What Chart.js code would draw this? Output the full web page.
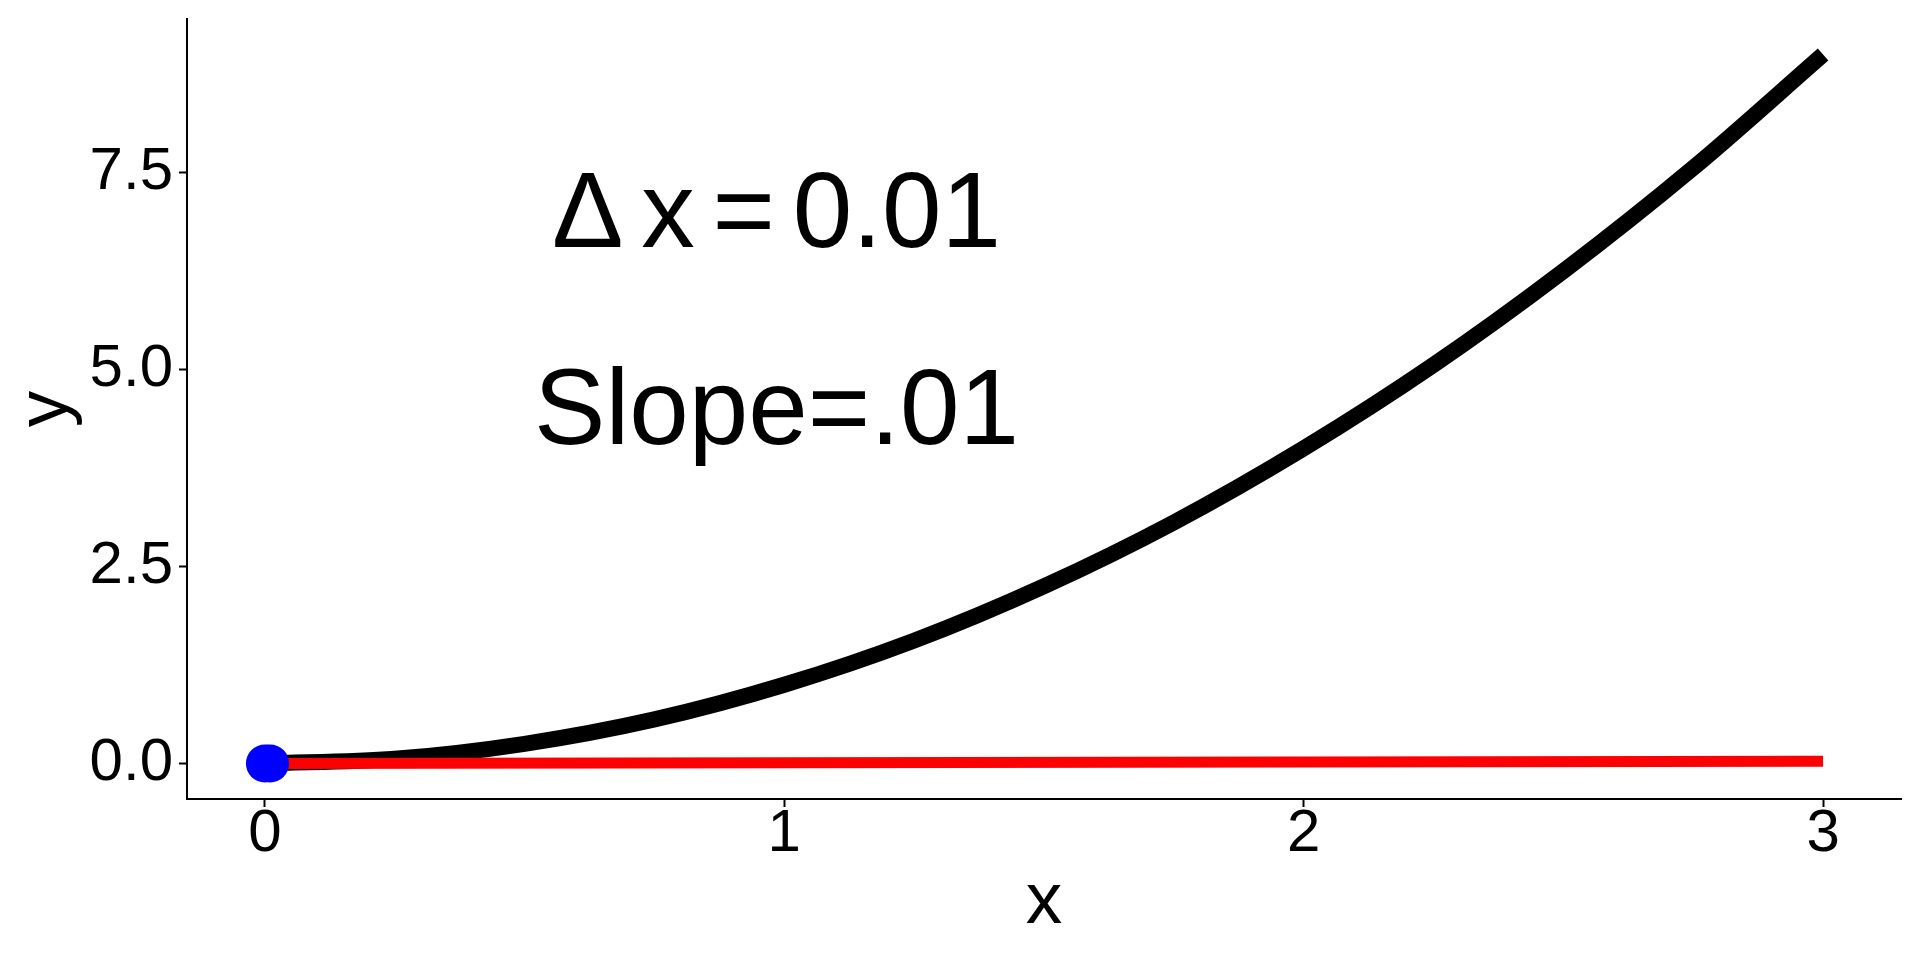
<!DOCTYPE html>
<html>
<head>
<meta charset="utf-8">
<script src="https://cdn.jsdelivr.net/npm/chart.js@4"></script>
<style>
  html, body { margin: 0; padding: 0; background: #fff; }
  #wrap { width: 1920px; height: 960px; }
</style>
</head>
<body>
<div id="wrap"><canvas id="slopeChart" width="1920" height="960"></canvas></div>
<script>
// Curve y = x^2
const curveX = [0, 0.25, 0.5, 0.75, 1, 1.25, 1.5, 1.75, 2, 2.25, 2.5, 2.75, 3];
const curveY = [0, 0.06, 0.25, 0.56, 1, 1.56, 2.25, 3.06, 4, 5.06, 6.25, 7.56, 9];

// Secant line through the two points
const secantX = [0, 3];
const secantY = [0, 0.03];

// The two points, delta x apart
const pointX = [0, 0.01];
const pointY = [0, 0.0001];

// Axis ticks
const xTicks = [0, 1, 2, 3];
const yTicks = [0, 2.5, 5, 7.5];

// Text notes (data coordinates); narrow spaces in the first one
const noteLabels = ['Δ\u2006x\u2006=\u20060.01', 'Slope=.01'];
const noteX = [0.985, 0.985];
const noteY = [6.93, 4.43];

const FONT = '"Liberation Sans", Arial, sans-serif';

function toXY(xs, ys) {
    return xs.map((x, i) => ({ x: x, y: ys[i] }));
}

// draws the text notes at their data positions
const notePlugin = {
    id: 'notes',
    afterDatasetsDraw(chart) {
        const { ctx, scales } = chart;
        ctx.save();
        ctx.fillStyle = '#000';
        ctx.font = '107px ' + FONT;
        ctx.textAlign = 'center';
        ctx.textBaseline = 'middle';
        noteLabels.forEach((t, i) => {
            ctx.fillText(t, scales.x.getPixelForValue(noteX[i]), scales.y.getPixelForValue(noteY[i]));
        });
        ctx.restore();
    }
};

const axisGrid = {
    drawOnChartArea: false,
    drawTicks: true,
    tickLength: 8,
    tickWidth: 2,
    tickColor: '#000',
    color: '#000'
};

const ctx = document.getElementById('slopeChart').getContext('2d');
new Chart(ctx, {
    type: 'line',
    data: {
        datasets: [
            {
                data: toXY(pointX, pointY),
                showLine: false,
                pointRadius: 19,
                pointHoverRadius: 19,
                pointBackgroundColor: '#0000ff',
                pointBorderWidth: 0,
                borderWidth: 0
            },
            {
                data: toXY(secantX, secantY),
                borderColor: '#ff0000',
                borderWidth: 11,
                pointRadius: 0,
                borderCapStyle: 'butt'
            },
            {
                data: toXY(curveX, curveY),
                borderColor: '#000000',
                borderWidth: 16,
                pointRadius: 0,
                cubicInterpolationMode: 'monotone',
                borderCapStyle: 'butt'
            }
        ]
    },
    options: {
        responsive: false,
        animation: false,
        layout: { padding: { top: 14, right: 14, left: 0, bottom: 0 } },
        plugins: {
            legend: { display: false },
            tooltip: { enabled: false }
        },
        scales: {
            x: {
                type: 'linear',
                min: -0.15,
                max: 3.15,
                afterBuildTicks: s => { s.ticks = xTicks.map(v => ({ value: v })); },
                afterFit: s => { s.height = 161; },
                grid: axisGrid,
                border: { display: true, color: '#000', width: 2 },
                ticks: {
                    color: '#000',
                    padding: -3,
                    maxRotation: 0,
                    autoSkip: false,
                    font: { family: FONT, size: 60, lineHeight: 1 },
                    callback: v => String(v)
                },
                title: {
                    display: true,
                    text: 'x',
                    color: '#000',
                    font: { family: FONT, size: 73, lineHeight: 1 },
                    padding: { top: 0, bottom: 21 }
                }
            },
            y: {
                type: 'linear',
                min: -0.45,
                max: 9.45,
                afterBuildTicks: s => { s.ticks = yTicks.map(v => ({ value: v })); },
                afterFit: s => {
                    s.width = 187;
                    s.paddingTop = 0;
                    s.paddingBottom = 0;
                },
                grid: axisGrid,
                border: { display: true, color: '#000', width: 2 },
                ticks: {
                    color: '#000',
                    padding: 6,
                    autoSkip: false,
                    font: { family: FONT, size: 60, lineHeight: 1 },
                    callback: v => v.toFixed(1)
                },
                title: {
                    display: true,
                    text: 'y',
                    color: '#000',
                    font: { family: FONT, size: 73, lineHeight: 1 },
                    padding: { top: 10, bottom: 0 }
                }
            }
        }
    },
    plugins: [notePlugin]
});
</script>
</body>
</html>
